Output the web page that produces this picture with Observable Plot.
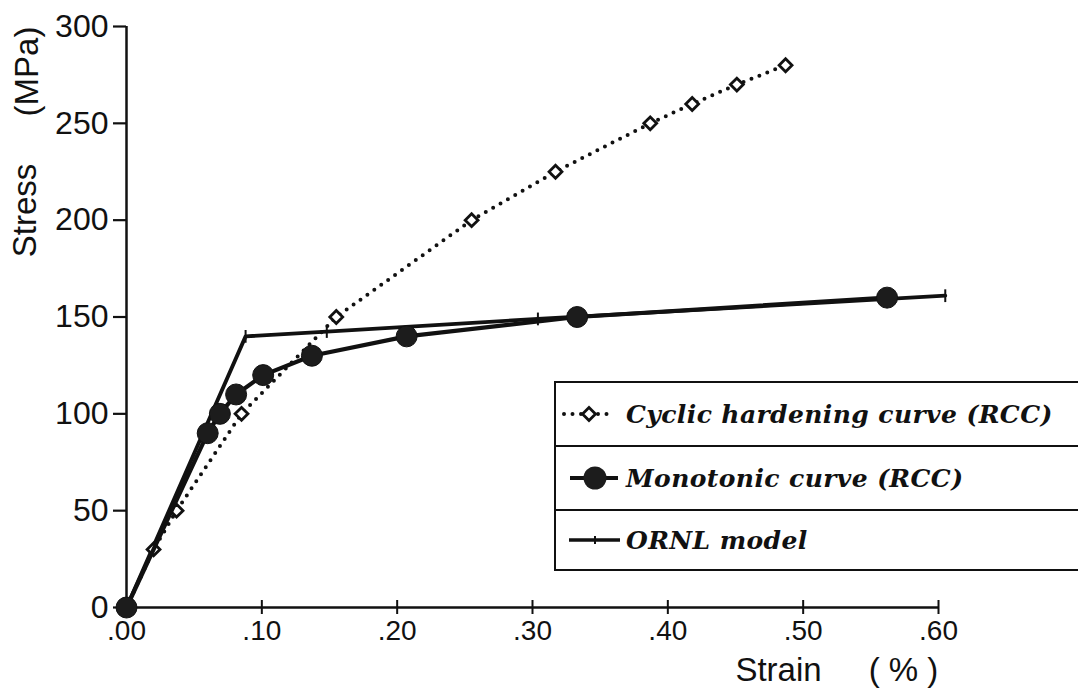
<!DOCTYPE html>
<html>
<head>
<meta charset="utf-8">
<script src="https://cdn.jsdelivr.net/npm/d3@7"></script>
<script src="https://cdn.jsdelivr.net/npm/@observablehq/plot@0.6"></script>
<style>
  html, body { margin: 0; padding: 0; background: #fff; overflow: hidden; }
  #wrap { position: relative; width: 1078px; height: 695px; overflow: hidden; background: #fff; }
  #legend { position: absolute; left: 554px; top: 381px; width: 700px; border: 2.5px solid #111; border-right: none; background: #fff; }
  #legend .row { height: 62px; display: flex; align-items: center; border-bottom: 2.5px solid #111; }
  #legend .row:last-child { border-bottom: none; height: 58px; }
  #legend .row svg { flex: none; }
  #legend .row span { font-family: "DejaVu Serif", serif; font-style: italic; font-weight: bold; font-size: 25px; color: #111; margin-left: 4px; letter-spacing: 0.4px; }
</style>
</head>
<body>
<div id="wrap"></div>
<script>
// ---- data ----
const xTicks = [0, 0.1, 0.2, 0.3, 0.4, 0.5, 0.6];
const yTicks = [0, 50, 100, 150, 200, 250, 300];

const cyclicStrain = [0, 0.02, 0.037, 0.085, 0.155, 0.255, 0.317, 0.387, 0.418, 0.451, 0.487];
const cyclicStress = [0, 30, 50, 100, 150, 200, 225, 250, 260, 270, 280];

const monoStrain = [0, 0.06, 0.069, 0.081, 0.101, 0.137, 0.207, 0.333, 0.562];
const monoStress = [0, 90, 100, 110, 120, 130, 140, 150, 160];

const ornlStrain = [0, 0.088, 0.148, 0.304, 0.605];
const ornlStress = [0, 140, 142.5, 149, 161];

const seriesNames = ["Cyclic hardening curve (RCC)", "Monotonic curve (RCC)", "ORNL model"];
const xLabelParts = ["Strain", "( % )"];
const yLabelParts = ["Stress", "(MPa)"];

const toRows = (xs, ys) => xs.map((x, i) => ({strain: x, stress: ys[i]}));
const cyclic = toRows(cyclicStrain, cyclicStress);
const mono = toRows(monoStrain, monoStress);
const ornl = toRows(ornlStrain, ornlStress);

const vtick = { draw(ctx, size) { const h = Math.sqrt(size) * 0.9; ctx.moveTo(0, -h); ctx.lineTo(0, h); } };

const ink = "#111";
const fmtX = d => d3.format(".2f")(d).replace(/^0/, "");

const chart = Plot.plot({
  width: 1078,
  height: 695,
  marginLeft: 126,
  marginRight: 140,
  marginTop: 26,
  marginBottom: 88,
  x: { domain: [0, 0.6] },
  y: { domain: [0, 300] },
  style: { background: "#fff", color: ink, fontFamily: "'Liberation Sans', Arial, sans-serif" },
  marks: [
    Plot.axisY(yTicks, { tickSize: 13, tickPadding: 5, fontSize: 32, strokeWidth: 2.2, label: null, tickFormat: d => String(d) }),
    Plot.axisX(xTicks, { tickSize: 7, tickPadding: 6, fontSize: 28, strokeWidth: 2, label: null, tickFormat: fmtX }),
    Plot.ruleX(xTicks, { x: d => d, y1: 0, y2: 0, insetTop: -7, insetBottom: 0, stroke: ink, strokeWidth: 2 }),
    Plot.ruleX([0], { stroke: ink, strokeWidth: 2.5 }),
    Plot.ruleY([0], { stroke: ink, strokeWidth: 2.5 }),
    // ORNL model
    Plot.line(ornl, { x: "strain", y: "stress", stroke: ink, strokeWidth: 3.8, curve: "linear" }),
    Plot.dot(ornl.slice(1), { x: "strain", y: "stress", symbol: vtick, r: 4, stroke: ink, strokeWidth: 2 }),
    // Cyclic hardening curve (dotted, hollow diamonds)
    Plot.line(cyclic, { x: "strain", y: "stress", stroke: ink, strokeWidth: 4, strokeDasharray: "0 8.5", strokeLinecap: "round" }),
    Plot.dot(cyclic.slice(1), { x: "strain", y: "stress", symbol: "diamond2", r: 5.8, fill: "#fff", stroke: ink, strokeWidth: 2.8 }),
    // Monotonic curve (solid, filled circles)
    Plot.line(mono, { x: "strain", y: "stress", stroke: ink, strokeWidth: 4.2 }),
    Plot.dot(mono, { x: "strain", y: "stress", r: 10.5, fill: "#1c1c1c", stroke: ink, strokeWidth: 1 }),
    // axis titles
    Plot.text([yLabelParts[0]], { text: d => d, frameAnchor: "top-left", dx: -101, dy: 210 - 26, rotate: -90, fontSize: 33, textAnchor: "middle", lineAnchor: "middle" }),
    Plot.text([yLabelParts[1]], { text: d => d, frameAnchor: "top-left", dx: -99, dy: 71 - 26, rotate: -90, fontSize: 33, textAnchor: "middle", lineAnchor: "middle" }),
    Plot.text([xLabelParts[0]], { text: d => d, frameAnchor: "bottom-left", dx: 652, dy: 63, fontSize: 33, textAnchor: "middle", lineAnchor: "middle" }),
    Plot.text([xLabelParts[1]], { text: d => d, frameAnchor: "bottom-left", dx: 777, dy: 63, fontSize: 33, textAnchor: "middle", lineAnchor: "middle" })
  ]
});

const wrap = document.getElementById("wrap");
wrap.appendChild(chart);

// legend (HTML overlay, as in the reference it sits inside the plot area)
const legend = document.createElement("div");
legend.id = "legend";
const symbols = [
  `<svg width="66" height="30"><line x1="8" y1="15" x2="58" y2="15" stroke="${ink}" stroke-width="4" stroke-linecap="round" stroke-dasharray="0 8.5"/><path d="M33 8.5 L39.5 15 L33 21.5 L26.5 15 Z" fill="#fff" stroke="${ink}" stroke-width="2.8"/></svg>`,
  `<svg width="66" height="30"><line x1="14" y1="15" x2="62" y2="15" stroke="${ink}" stroke-width="4"/><circle cx="39" cy="15" r="11.5" fill="#1c1c1c"/></svg>`,
  `<svg width="66" height="30"><line x1="13" y1="15" x2="64" y2="15" stroke="${ink}" stroke-width="3.5"/><line x1="39" y1="11" x2="39" y2="19" stroke="${ink}" stroke-width="2"/></svg>`
];
seriesNames.forEach((name, i) => {
  const row = document.createElement("div");
  row.className = "row";
  row.innerHTML = symbols[i] + `<span>${name}</span>`;
  legend.appendChild(row);
});
wrap.appendChild(legend);
</script>
</body>
</html>
